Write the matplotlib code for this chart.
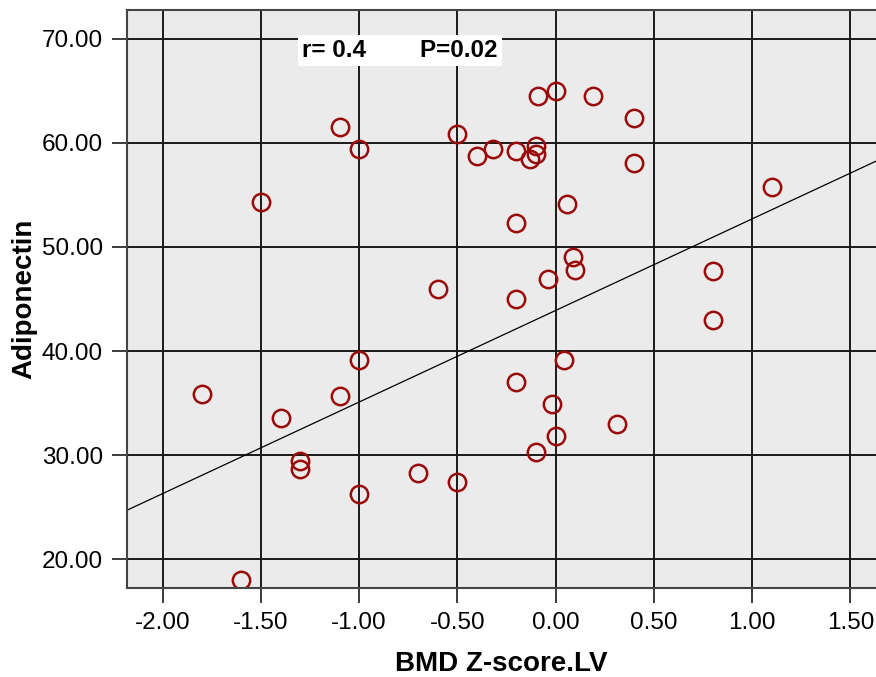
import numpy as np
import matplotlib.pyplot as plt

plt.rcParams['font.family'] = ['Liberation Sans', 'DejaVu Sans']

# BMD Z-score (lumbar) vs adiponectin
bmd_z = [-1.6, -1.8, -1.5, -1.4, -1.3, -1.3, -1.1, -1.1, -1.0, -1.0,
         -1.0, -0.7, -0.6, -0.5, -0.5, -0.4, -0.32, -0.2, -0.2, -0.2,
         -0.2, -0.13, -0.1, -0.1, -0.09, -0.1, -0.04, -0.02, 0.0, 0.0,
         0.04, 0.06, 0.09, 0.1, 0.19, 0.31, 0.4, 0.4, 0.8, 0.8, 1.1]
adiponectin = [18.0, 35.9, 54.3, 33.6, 29.4, 28.7, 61.5, 35.7, 59.4, 39.1,
               26.3, 28.3, 46.0, 60.9, 27.4, 58.7, 59.4, 59.2, 52.3, 45.0,
               37.0, 58.5, 59.7, 58.9, 64.5, 30.3, 46.9, 34.9, 65.0, 31.8,
               39.1, 54.1, 49.0, 47.8, 64.5, 33.0, 62.4, 58.1, 47.7, 43.0, 55.8]

# fit line as drawn on the chart
fit_slope = 8.8
fit_intercept = 43.9

x_ticks = [-2.0, -1.5, -1.0, -0.5, 0.0, 0.5, 1.0, 1.5]
y_ticks = [20, 30, 40, 50, 60, 70]

fig = plt.figure(figsize=(8.76, 6.77), dpi=100)
ax = fig.add_axes([0.1446, 0.131, 0.8554, 0.8547])
ax.set_facecolor('#ebebeb')

ax.set_xlim(-2.183, 1.63)
ax.set_ylim(17.2, 72.8)

ax.set_xticks(x_ticks)
ax.set_yticks(y_ticks)
ax.set_xticklabels(['%.2f' % v for v in x_ticks])
ax.set_yticklabels(['%.2f' % v for v in y_ticks])
ax.grid(True, color='#1a1a1a', linewidth=1.4)
ax.set_axisbelow(True)
ax.tick_params(direction='out', length=11, width=1.2, color='#1a1a1a',
               labelsize=17.5, pad=6)

for side in ['left', 'bottom', 'top']:
    ax.spines[side].set_color('#444444')
    ax.spines[side].set_linewidth(1.5)
ax.spines['right'].set_visible(False)

xs = np.array(ax.get_xlim())
ax.plot(xs, fit_intercept + fit_slope * xs, color='black', linewidth=0.9)

ax.plot(bmd_z, adiponectin, 'o', markersize=12.5, markerfacecolor='none',
        markeredgecolor='#9b0a0a', markeredgewidth=1.8)

ax.text(0.234, 0.929, 'r= 0.4        P=0.02', transform=ax.transAxes,
        fontsize=17.5, fontweight='bold', va='center', ha='left',
        bbox=dict(facecolor='white', edgecolor='none', pad=3))

ax.set_xlabel('BMD Z-score.LV', fontsize=20, fontweight='bold', labelpad=12)
ax.set_ylabel('Adiponectin', fontsize=20, fontweight='bold', labelpad=3)

fig.savefig('out.png', dpi=100)
